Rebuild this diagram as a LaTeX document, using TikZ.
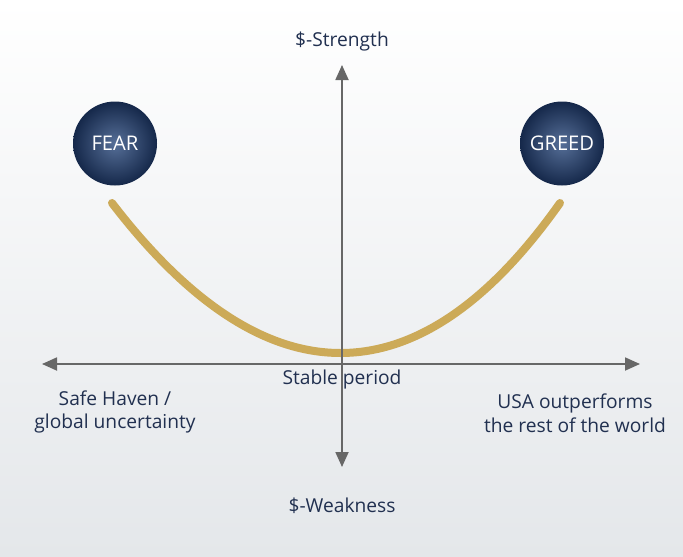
\documentclass[tikz,border=0pt]{standalone}
\usepackage{fontspec}
\setmainfont{Open Sans}
\usetikzlibrary{arrows.meta,shadings}
\definecolor{bgbot}{HTML}{E4E7EA}
\definecolor{axisgray}{HTML}{676767}
\definecolor{gold}{HTML}{CCAA58}
\definecolor{navy}{HTML}{213050}
\definecolor{ballout}{HTML}{15284A}
\definecolor{ballin}{HTML}{566F98}
\tikzset{
  axis/.style={draw=axisgray, line width=1.8pt, -{Triangle[length=15pt,width=13pt]}},
  lbl/.style={text=navy, font=\fontsize{19.2}{23.5}\selectfont, align=center, inner sep=0pt},
  ball/.style={circle, minimum size=84pt, inner sep=0pt, inner color=ballin, outer color=ballout, text=white, font=\fontsize{20.2}{24}\selectfont},
  curve/.style={draw=gold, line width=8pt, line cap=round}
}
\begin{document}
\begin{tikzpicture}[x=1pt,y=-1pt]
\useasboundingbox (0,0) rectangle (683,557);
\shade[top color=white, bottom color=bgbot] (0,0) rectangle (683,557);
% curve
\coordinate (cL) at (112,203);
\coordinate (cR) at (560,203);
\draw[curve] (cL) .. controls (265.3,403) and (418.7,403) .. (cR);
% axes
\coordinate (o) at (342,364);
\coordinate (top) at (342,65);
\coordinate (bot) at (342,467);
\coordinate (lft) at (42,364);
\coordinate (rgt) at (640,364);
\draw[axis] (o) -- (top);
\draw[axis] (o) -- (bot);
\draw[axis] (o) -- (lft);
\draw[axis] (o) -- (rgt);
% balls
\node[ball] (fear) at (115,143.5) {FEAR};
\node[ball] (greed) at (562,143.5) {GREED};
% labels
\node[lbl] (str) at (342,42) {\$-Strength};
\node[lbl] (weak) at (342,506) {\$-Weakness};
\node[lbl] (stable) at (342,380) {Stable period};
\node[lbl] (safe) at (115,412) {Safe Haven /\\global uncertainty};
\node[lbl] (usa) at (575,413) {USA outperforms\\the rest of the world};
\end{tikzpicture}
\end{document}
